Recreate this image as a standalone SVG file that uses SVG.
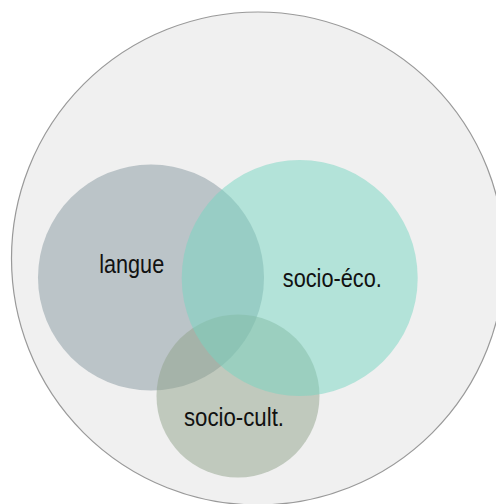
<svg xmlns="http://www.w3.org/2000/svg" width="496" height="504" viewBox="0 0 496 504">
  <style>
    .lbl { font-family: "Liberation Sans", Arial, sans-serif; font-size: 25.5px; fill: #111; text-anchor: middle; }
    .set { fill-opacity: 0.5; }
  </style>
  <rect x="0" y="0" width="496" height="504" fill="#ffffff"/>
  <g id="univers">
    <circle cx="258" cy="258.5" r="246.5" fill="#f0f0f0" stroke="#999999" stroke-width="1.2"/>
  </g>
  <g id="langue">
    <circle class="set" cx="151" cy="277.5" r="113" fill="#86989f"/>
  </g>
  <g id="socio-cult">
    <circle class="set" cx="238" cy="396" r="81.5" fill="#90a28a"/>
  </g>
  <g id="socio-eco">
    <circle class="set" cx="299.7" cy="278" r="118" fill="#76d6c2"/>
  </g>
  <g id="labels">
    <text class="lbl" x="131.7" y="273" textLength="65" lengthAdjust="spacingAndGlyphs">langue</text>
    <text class="lbl" x="332.3" y="286.5" textLength="99" lengthAdjust="spacingAndGlyphs">socio-éco.</text>
    <text class="lbl" x="234" y="426" textLength="100" lengthAdjust="spacingAndGlyphs">socio-cult.</text>
  </g>
  <g id="connectors"/>
</svg>
